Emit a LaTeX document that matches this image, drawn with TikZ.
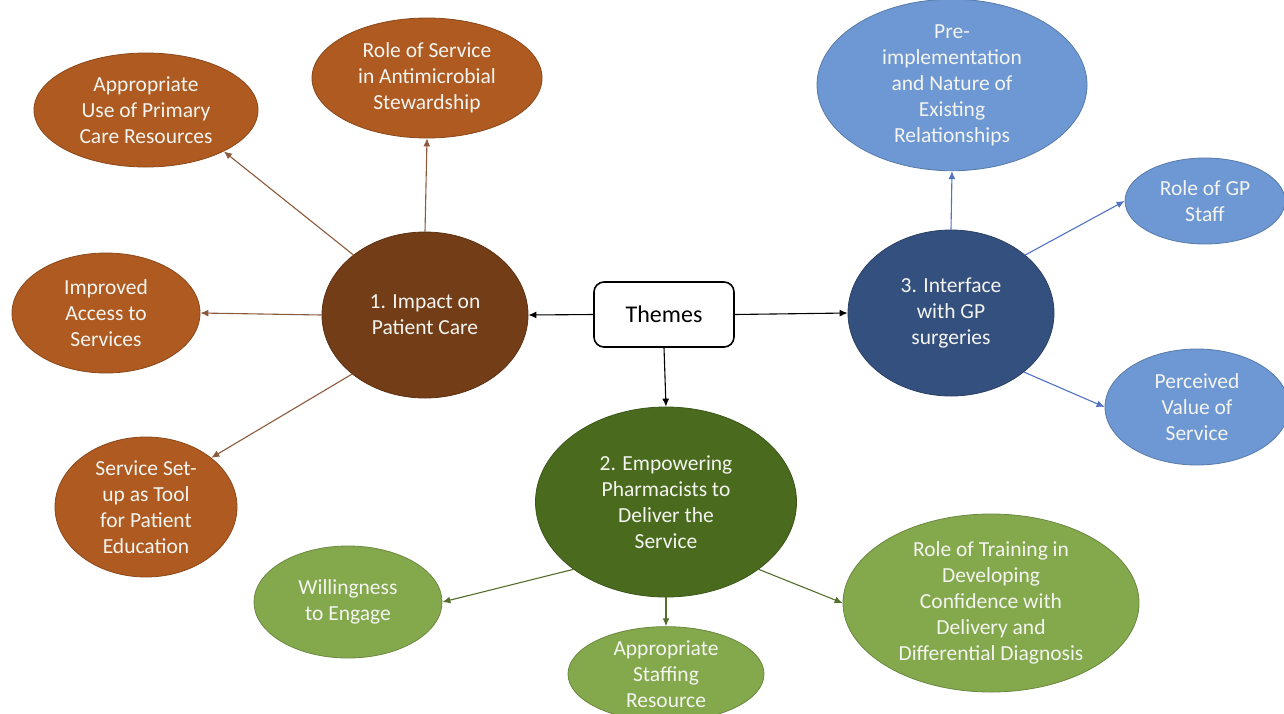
\documentclass[tikz,border=0pt]{standalone}
\usepackage{fontspec}
\setmainfont{Carlito}
\usetikzlibrary{arrows.meta,shapes.geometric}
\definecolor{lbrown}{HTML}{AE5A21}
\definecolor{dbrown}{HTML}{733D17}
\definecolor{abrown}{HTML}{8C5A3C}
\definecolor{dgreen}{HTML}{4A6B1E}
\definecolor{lgreen}{HTML}{84A94D}
\definecolor{agreen}{HTML}{55702E}
\definecolor{dblue}{HTML}{34507E}
\definecolor{lblue}{HTML}{6D98D3}
\definecolor{ablue}{HTML}{5273C4}
\definecolor{txt}{HTML}{F4F4F0}
\tikzset{
  bub/.style={ellipse, inner sep=0pt, align=center, text=txt,
    font=\fontsize{21.5}{26}\selectfont, line width=0.8pt},
  bbrown/.style={bub, fill=lbrown, draw=lbrown!80!black},
  bdbrown/.style={bub, fill=dbrown, draw=dbrown!80!black},
  bgreen/.style={bub, fill=lgreen, draw=lgreen!80!black},
  bdgreen/.style={bub, fill=dgreen, draw=dgreen!80!black},
  bblue/.style={bub, fill=lblue, draw=lblue!80!black},
  bdblue/.style={bub, fill=dblue, draw=dblue!80!black},
  arr/.style={line width=1.1pt, -{Latex[length=8pt,width=7pt]}},
}
\begin{document}
\begin{tikzpicture}[x=1pt,y=-1pt]
\useasboundingbox (0,0) rectangle (1284,713);
\fill[white] (0,0) rectangle (1284,713);
% themes
\node[draw=black, line width=1.6pt, rounded corners=10pt, minimum width=140pt, minimum height=65pt,
  font=\fontsize{24}{28}\selectfont, inner sep=0pt] (th) at (664,314.5) {Themes};
% cluster 1
\node[bdbrown, minimum width=206pt, minimum height=166pt] (imp) at (425,315) {1. Impact on\\Patient Care};
\node[bbrown, minimum width=224pt, minimum height=114pt] (use) at (146,110) {Appropriate\\Use of Primary\\Care Resources};
\node[bbrown, minimum width=230pt, minimum height=120pt] (ams) at (427,78) {Role of Service\\in Antimicrobial\\Stewardship};
\node[bbrown, minimum width=188pt, minimum height=120pt] (acc) at (106,313) {Improved\\Access to\\Services};
\node[bbrown, minimum width=182pt, minimum height=140pt] (edu) at (146,507) {Service Set-\\up as Tool\\for Patient\\Education};
% cluster 2
\node[bdgreen, minimum width=261pt, minimum height=190pt] (emp) at (666,502) {2. Empowering\\Pharmacists to\\Deliver the\\Service};
\node[bgreen, minimum width=188pt, minimum height=112pt] (will) at (348,602) {Willingness\\to Engage};
\node[bgreen, minimum width=196pt, minimum height=88pt] (staff) at (666,674) {Appropriate\\Staffing\\Resource};
\node[bgreen, minimum width=296pt, minimum height=178pt] (train) at (991,603) {Role of Training in\\Developing\\Confidence with\\Delivery and\\Differential Diagnosis};
% cluster 3
\node[bdblue, minimum width=206pt, minimum height=166pt] (int) at (951,313) {3. Interface\\with GP\\surgeries};
\node[bblue, minimum width=270pt, minimum height=148pt] (pre) at (952,85) {Pre-\\implementation\\and Nature of\\Existing\\Relationships};
\node[bblue, minimum width=160pt, minimum height=86pt] (gp) at (1205,201) {Role of GP\\Staff};
\node[bblue, minimum width=184pt, minimum height=116pt] (val) at (1197,407) {Perceived\\Value of\\Service};
% connectors
\draw[arr, black] (th.west) -- (imp.east);
\draw[arr, black] (th.east) -- (int.west);
\draw[arr, black] (th.south) -- (emp.north);
\draw[arr, abrown] (imp.140) -- (use.332);
\draw[arr, abrown] (imp.north) -- (ams.south);
\draw[arr, abrown] (imp.west) -- (acc.east);
\draw[arr, abrown] (imp.219) -- (edu.37);
\draw[arr, agreen] (emp.216) -- (will.0);
\draw[arr, agreen] (emp.south) -- (staff.north);
\draw[arr, agreen] (emp.324) -- (train.180);
\draw[arr, ablue] (int.north) -- (pre.south);
\draw[arr, ablue] (int.38) -- (gp.180);
\draw[arr, ablue] (int.321) -- (val.180);
\end{tikzpicture}
\end{document}
